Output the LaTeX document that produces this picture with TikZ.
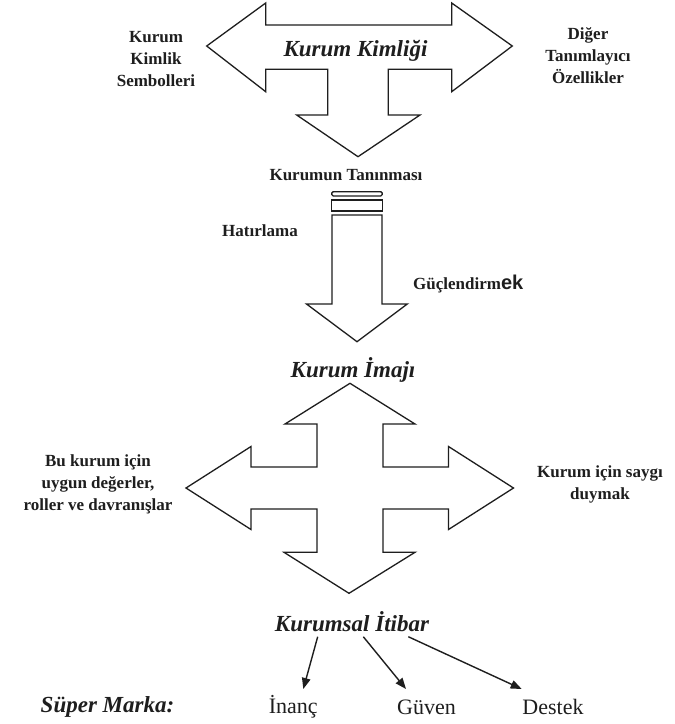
\documentclass[tikz,border=0pt]{standalone}
\usepackage{fontspec}
\setmainfont{Liberation Serif}
\newfontfamily\ekfont{Liberation Sans}
\usetikzlibrary{arrows.meta}
\definecolor{ink}{HTML}{1E1E1E}
\tikzset{
  blockarrow/.style={draw=ink, line width=1.3pt, line join=miter, fill=white},
  lbl/.style={font=\bfseries\fontsize{17}{22}\selectfont, align=center, text=ink, inner sep=0pt},
  ttl/.style={font=\bfseries\itshape\fontsize{23}{28}\selectfont, text=ink, inner sep=0pt},
  itemtxt/.style={font=\fontsize{22}{26}\selectfont, text=ink, inner sep=0pt},
  conn/.style={draw=ink, line width=1.4pt, -{Triangle[length=11pt,width=8.5pt]}},
}
\begin{document}
\begin{tikzpicture}[x=1pt,y=-1pt]
\useasboundingbox[fill=white] (0,0) rectangle (675,724);

% top T-shaped double arrow
\draw[blockarrow] (206.7,46) -- (265.7,3) -- (265.7,25) -- (451.7,25) -- (451.7,3)
  -- (512.3,46) -- (451.7,91.7) -- (451.7,69.3) -- (388.3,69.3) -- (388.3,115)
  -- (420,115) -- (358,156.7) -- (296.7,115) -- (327.7,115) -- (327.7,69.3)
  -- (265.7,69.3) -- (265.7,91.7) -- cycle;
\node[ttl] (kimlik) at (355.5,51) {Kurum Kimliği};
\node[lbl] (sembol) at (156,59) {Kurum\\Kimlik\\Sembolleri};
\node[lbl] (diger) at (588,56) {Diğer\\Tanımlayıcı\\Özellikler};

% middle arrow
\node[lbl] (taninma) at (346,175) {Kurumun Tanınması};
\draw[blockarrow, rounded corners=1.5pt] (331.7,191.7) rectangle (382.3,196);
\draw[blockarrow] (331.7,200) rectangle (382.3,211);
\draw[blockarrow] (332,215) -- (382,215) -- (382,304) -- (407.3,304) -- (357,341.7)
  -- (306.5,304) -- (332,304) -- cycle;
\node[lbl] (hatirla) at (260,231) {Hatırlama};
\node[lbl, anchor=west] (guclen) at (413,284) {Güçlendirm{\ekfont\bfseries\fontsize{20}{22}\selectfont ek}};

% cross
\node[ttl] (imaj) at (353,370) {Kurum İmajı};
\draw[blockarrow] (350,383.3) -- (415,424) -- (383,424) -- (383,467) -- (448.5,467)
  -- (448.5,446.5) -- (513.5,488) -- (448.5,529.5) -- (448.5,509) -- (383,509)
  -- (383,552.3) -- (415,552.3) -- (349,593.3) -- (284,552.3) -- (317,552.3)
  -- (317,509) -- (251,509) -- (251,529.5) -- (186,488) -- (251,446.5)
  -- (251,467) -- (317,467) -- (317,424) -- (285,424) -- cycle;
\node[lbl] (bukurum) at (98,484) {Bu kurum için\\uygun değerler,\\roller ve davranışlar};
\node[lbl] (saygi) at (600,484) {Kurum için saygı\\duymak};

% bottom
\node[ttl] (itibar) at (352,622) {Kurumsal İtibar};
\node[ttl] (super) at (107.5,707) {Süper Marka:};
\node[itemtxt] (inanc) at (293.3,707) {İnanç};
\node[itemtxt] (guven) at (426.5,707) {Güven};
\node[itemtxt] (destek) at (553,707) {Destek};
\coordinate (s1) at (317.7,636.7);
\coordinate (s2) at (363.3,636.7);
\coordinate (s3) at (408.3,636.7);
\coordinate (e1) at (303.3,689);
\coordinate (e2) at (406,689);
\coordinate (e3) at (521.7,689);
\draw[conn] (s1) -- (e1);
\draw[conn] (s2) -- (e2);
\draw[conn] (s3) -- (e3);
\end{tikzpicture}
\end{document}
